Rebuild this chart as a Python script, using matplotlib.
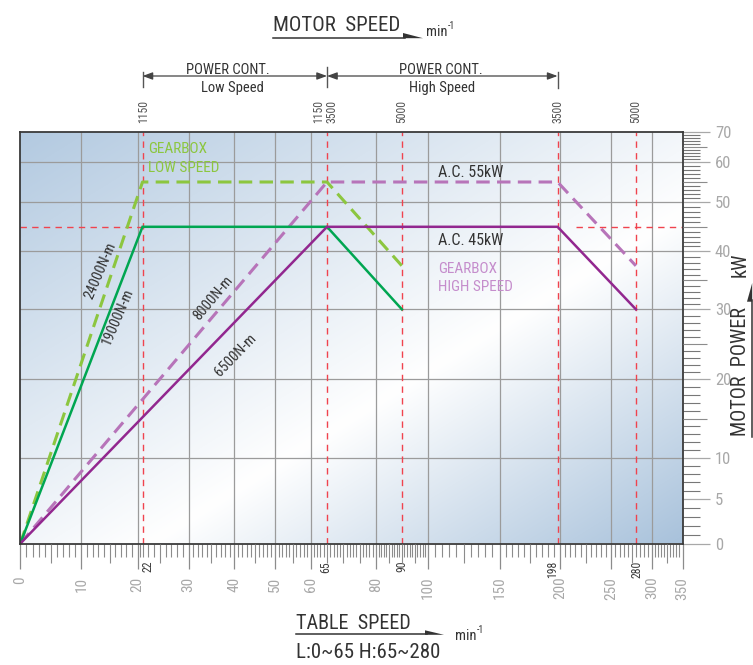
import numpy as np
import matplotlib
matplotlib.use("Agg")
import matplotlib.pyplot as plt
from matplotlib import font_manager, transforms
from matplotlib.patches import FancyArrowPatch, Polygon
from matplotlib.lines import Line2D

# ---- data ----
speed_ticks = [0, 10, 20, 30, 40, 50, 60, 80, 100, 150, 200, 250, 300, 350]
power_ticks = [0, 5, 10, 20, 30, 40, 50, 60, 70]
power_grid = [10, 20, 30, 40, 50, 60]

low_speed = [0, 22, 65, 90]
low_45kw = [0, 45, 45, 30]
low_55kw = [0, 55, 55, 37.5]
high_speed = [0, 65, 198, 280]
high_45kw = [0, 45, 45, 30]
high_55kw = [0, 55, 55, 37.5]

mark_speeds = [22, 65, 90, 198, 280]
mark_labels = ["22", "65", "90", "198", "280"]
motor_labels = ["1150", "1150\n3500", "5000", "3500", "5000"]
rated_kw = 45
rated_spans = [(0, 22), (216, 350)]

torque_labels = ["24000N-m", "19000N-m", "8000N-m", "6500N-m"]

# the axes of the original are hand made (not linear) -> pixel position of each tick
x_anchor_val = [0, 10, 20, 22, 30, 40, 50, 60, 80, 100, 150, 200, 250, 300, 350]
x_anchor_px = [20.3, 81.3, 137.7, 142.5, 188.5, 234.3, 275, 310.7, 376, 427.7,
               499.5, 560, 611.3, 652.3, 682.5]
y_anchor_val = power_ticks
y_anchor_px = [543.5, 499, 457.7, 379.3, 309.3, 251.3, 202.3, 161.7, 131.5]

W, H = 753, 665


def fx(px):
    return px / W


def fy(py):
    return 1 - py / H


def piecewise(vals, pos):
    vals = np.asarray(vals, float)
    pos = np.asarray(pos, float)

    def conv(a, src, dst):
        a = np.asarray(a, float)
        out = np.interp(a, src, dst)
        lo = (dst[1] - dst[0]) / (src[1] - src[0])
        hi = (dst[-1] - dst[-2]) / (src[-1] - src[-2])
        out = np.where(a < src[0], dst[0] + (a - src[0]) * lo, out)
        out = np.where(a > src[-1], dst[-1] + (a - src[-1]) * hi, out)
        return out
    return (lambda a: conv(a, vals, pos)), (lambda a: conv(a, pos, vals))


fwd_x, inv_x = piecewise(x_anchor_val, x_anchor_px)
fwd_y, inv_y = piecewise(y_anchor_val, [543.5 - p for p in y_anchor_px])

# fonts
names = {f.name for f in font_manager.fontManager.ttflist}
FONT = "DejaVu Sans"
for cand in ["Roboto Condensed", "Liberation Sans Narrow", "Roboto"]:
    if cand in names:
        FONT = cand
        break
plt.rcParams["font.family"] = [FONT, "DejaVu Sans"]

GREEN = "#00a651"
GREEN_L = "#8cc63f"
PURPLE = "#92278f"
PURPLE_L = "#b774b9"
RED = "#f0434e"
DARK = "#333333"
TICKLAB = "#a8a8a8"

fig = plt.figure(figsize=(7.53, 6.65), dpi=100)
rect = [fx(20.3), fy(543.5), (682.5 - 20.3) / W, (543.5 - 131.5) / H]

# background gradient
bg = fig.add_axes(rect, zorder=-1)
u = np.linspace(0, 1, 300)[None, :]
w = np.linspace(0, 1, 200)[:, None]
t = (u + w) / 2
c0 = np.array([0.70, 0.79, 0.88])
c1 = np.array([0.66, 0.76, 0.86])
k = np.where(t < 0.6, (0.6 - t) / 0.6, (t - 0.6) / 0.4)[..., None]
col = np.where((t < 0.6)[..., None], c0, c1)
img = 1 - k * (1 - col)
bg.imshow(img, aspect="auto", extent=[0, 1, 0, 1], interpolation="bilinear")
bg.axis("off")

ax = fig.add_axes(rect)
ax.patch.set_visible(False)
ax.set_xscale("function", functions=(fwd_x, inv_x))
ax.set_yscale("function", functions=(fwd_y, inv_y))
ax.set_xlim(0, 350)
ax.set_ylim(0, 70)

# grid
for v in speed_ticks[1:-1]:
    ax.axvline(v, color="#9b9b9b", lw=0.9, zorder=1)
for v in power_grid:
    ax.axhline(v, color="#9b9b9b", lw=0.9, zorder=1)

# red guide lines
for s in mark_speeds:
    ax.axvline(s, color=RED, lw=1.0, dashes=(4.6, 3.8), zorder=3)
for a, b in rated_spans:
    ax.hlines(rated_kw, a, b, color=RED, lw=1.0, linestyles=(0, (4.6, 3.8)), zorder=3)

# power curves
ax.plot(low_speed, low_55kw, color=GREEN_L, lw=2.2, dashes=(4.4, 2.4), zorder=4)
ax.plot(high_speed, high_55kw, color=PURPLE_L, lw=2.2, dashes=(4.4, 2.4), zorder=4)
ax.plot(low_speed, low_45kw, color=GREEN, lw=1.8, zorder=5, solid_joinstyle="miter")
ax.plot(high_speed, high_45kw, color=PURPLE, lw=1.8, zorder=5, solid_joinstyle="miter")

for sp in ax.spines.values():
    sp.set_color("#3a3a3a")
    sp.set_linewidth(1.3)
    sp.set_zorder(6)

# ticks
mid_x = [v for v in list(range(5, 100, 5)) + [125, 175, 225, 275, 325] if v not in speed_ticks]
minor_x = [v for v in list(range(0, 100)) + list(range(100, 351, 5))
           if v not in speed_ticks and v not in mid_x]
mid_y = [15, 25, 35, 45, 55, 65]
minor_y = [v for v in range(0, 71) if v not in power_ticks and v not in mid_y]

ax.set_xticks(speed_ticks)
ax.set_xticklabels([str(v) for v in speed_ticks])
ax.set_xticks(minor_x, minor=True)
ax.tick_params(axis="x", which="major", length=18, width=0.9, color="#8c8c8c",
               labelsize=11, labelcolor=TICKLAB, labelrotation=90, pad=6)
ax.tick_params(axis="x", which="minor", length=9, width=0.8, color="#8c8c8c")

ax.yaxis.tick_right()
ax.set_yticks(power_ticks)
ax.set_yticklabels([str(v) for v in power_ticks])
ax.set_yticks(minor_y, minor=True)
ax.tick_params(axis="y", which="major", length=19.7, width=0.9, color="#a8a8a8",
               labelsize=12, labelcolor=TICKLAB, pad=3.6)
ax.tick_params(axis="y", which="minor", length=12, width=0.8, color="#777777")

# medium ticks on a second transparent axes with the same scales
axm = fig.add_axes(rect)
axm.patch.set_visible(False)
axm.set_xscale("function", functions=(fwd_x, inv_x))
axm.set_yscale("function", functions=(fwd_y, inv_y))
axm.set_xlim(0, 350)
axm.set_ylim(0, 70)
for sp in axm.spines.values():
    sp.set_visible(False)
axm.set_xticks(mid_x)
axm.set_yticks(mid_y)
axm.yaxis.tick_right()
axm.tick_params(axis="x", length=14, width=0.8, color="#8c8c8c", labelbottom=False)
axm.tick_params(axis="y", length=17.3, width=0.8, color="#8c8c8c", labelright=False)
axm.minorticks_off()

# motor speed / table speed marks
bottom_dx = {22: 4, 65: -1, 90: 0.3, 198: -3.5, 280: 1}
top_dx = {22: 0.6, 65: -1.2, 90: 0, 198: 0, 280: 0}
for s, lab, mlab in zip(mark_speeds, mark_labels, motor_labels):
    ax.annotate(lab, xy=(s, 0), xycoords=("data", "axes fraction"),
                xytext=(bottom_dx[s], -12.6), textcoords="offset points",
                rotation=90, ha="center", va="top", fontsize=8.5, color="#3c3c3c")
    ax.annotate(mlab, xy=(s, 1), xycoords=("data", "axes fraction"),
                xytext=(top_dx[s], 5.8), textcoords="offset points",
                rotation=90, ha="center", va="bottom", fontsize=8.5, color="#555555",
                linespacing=0.95)

# power-constant ranges above the chart
tr = transforms.blended_transform_factory(ax.transData, fig.transFigure)
for a, b in [(22, 65), (65, 198)]:
    fig.add_artist(FancyArrowPatch((a, fy(76)), (b, fy(76)), transform=tr,
                                   arrowstyle="<|-|>,head_length=0.6,head_width=0.22",
                                   mutation_scale=10, lw=0.9, color="#444444",
                                   shrinkA=0, shrinkB=0))
for s, y0, y1 in [(22, 71.7, 87.3), (65, 66.7, 87.3), (198, 71.7, 88.3)]:
    fig.add_artist(Line2D([s, s], [fy(y0), fy(y1)], transform=tr, color="#555555", lw=1))

fig.text(fx(228), fy(73.5), "POWER CONT.", ha="center", va="baseline", fontsize=10.5, color=DARK)
fig.text(fx(232), fy(92), "Low Speed", ha="center", va="baseline", fontsize=10.5, color=DARK)
fig.text(fx(441), fy(73.5), "POWER CONT.", ha="center", va="baseline", fontsize=10.5, color=DARK)
fig.text(fx(442), fy(92), "High Speed", ha="center", va="baseline", fontsize=10.5, color=DARK)

# axis titles with underline arrows
fig.text(fx(273), fy(31), "MOTOR  SPEED", ha="left", va="baseline", fontsize=15, color=DARK)
fig.add_artist(Line2D([fx(273), fx(405)], [fy(37.7), fy(37.7)], color=DARK, lw=1.1))
fig.add_artist(Polygon([(fx(403), fy(33)), (fx(423), fy(38.2)), (fx(403), fy(38.2))],
                       closed=True, color=DARK, lw=0))
fig.text(fx(426), fy(36), "min", ha="left", va="baseline", fontsize=10.5, color=DARK)
fig.text(fx(448), fy(29), "-1", ha="left", va="baseline", fontsize=7, color=DARK)

fig.text(fx(296.5), fy(628.8), "TABLE  SPEED", ha="left", va="baseline", fontsize=14.5, color=DARK)
fig.add_artist(Line2D([fx(296), fx(427)], [fy(634.3), fy(634.3)], color=DARK, lw=1.1))
fig.add_artist(Polygon([(fx(425), fy(630.3)), (fx(444), fy(634.8)), (fx(425), fy(634.8))],
                       closed=True, color=DARK, lw=0))
fig.text(fx(455), fy(640), "min", ha="left", va="baseline", fontsize=10.5, color=DARK)
fig.text(fx(477), fy(633), "-1", ha="left", va="baseline", fontsize=7, color=DARK)
fig.text(fx(296.5), fy(658.3), "L:0~65 H:65~280", ha="left", va="baseline", fontsize=15, color=DARK)

fig.text(fx(740), fy(372), "MOTOR  POWER", rotation=90, ha="center", va="center",
         fontsize=14.5, color=DARK)
fig.add_artist(Line2D([fx(751.7), fx(751.7)], [fy(437), fy(300)], color=DARK, lw=1.1))
fig.add_artist(Polygon([(fx(747), fy(301.7)), (fx(752.2), fy(283)), (fx(752.2), fy(301.7))],
                       closed=True, color=DARK, lw=0))
fig.text(fx(740), fy(265), "kW", rotation=90, ha="center", va="center", fontsize=14.5, color=DARK)

# texts inside the chart
fig.text(fx(148), fy(153.3), "GEARBOX", ha="left", va="baseline", fontsize=11, color=GREEN_L)
fig.text(fx(148), fy(172.3), "LOW SPEED", ha="left", va="baseline", fontsize=11, color=GREEN_L)
fig.text(fx(437.7), fy(176.7), "A.C. 55kW", ha="left", va="baseline", fontsize=11.5, color=DARK)
fig.text(fx(437.7), fy(245), "A.C. 45kW", ha="left", va="baseline", fontsize=11.5, color=DARK)
fig.text(fx(437.7), fy(272.7), "GEARBOX", ha="left", va="baseline", fontsize=11, color="#c58dcc")
fig.text(fx(437.7), fy(291), "HIGH SPEED", ha="left", va="baseline", fontsize=11, color="#c58dcc")

torque_pos = [(100, 271, 67), (118, 317, 67), (213, 298, 50), (236, 355, 46)]
for lab, (px, py, ang) in zip(torque_labels, torque_pos):
    fig.text(fx(px), fy(py), lab, rotation=ang, rotation_mode="anchor",
             ha="center", va="center", fontsize=10.5, color=DARK)

fig.savefig("out.png", dpi=100)
